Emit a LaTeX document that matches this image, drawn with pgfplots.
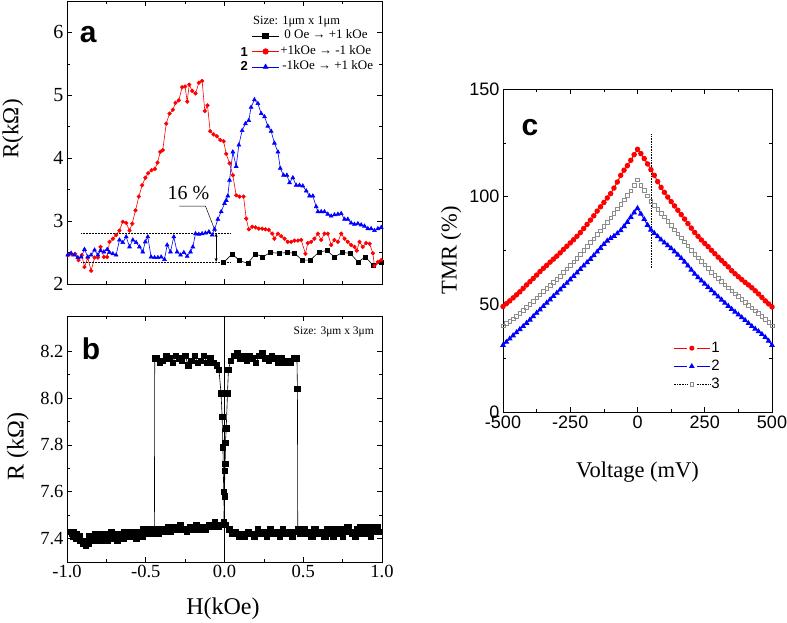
\documentclass[border=0pt]{standalone}
\usepackage{pgfplots}
\pgfplotsset{compat=1.18}
\usepackage{fontspec}
\setmainfont{Liberation Serif}
\newfontfamily\arial{Liberation Sans}
\usetikzlibrary{arrows.meta}

\definecolor{grey3}{RGB}{140,140,140}

\pgfplotsset{
  panel/.style={
    scale only axis, anchor=south west,
    tick align=inside,
    axis line style={line width=0.8pt},
    every tick/.style={black, line width=0.6pt},
    major tick length=5pt, minor tick length=3pt,
    /pgf/number format/assume math mode=true,
  },
  legdash/.style={legend image code/.code={
    \draw[##1, mark=none, line width=1.2pt] (0pt,0pt) -- (13pt,0pt) (23pt,0pt) -- (36pt,0pt);
    \draw[##1, only marks, mark size=#1] plot coordinates {(18pt,0pt)};}},
  legdot/.style={legend image code/.code={
    \draw[black, densely dotted, line width=0.6pt] (0pt,0pt) -- (13pt,0pt) (23pt,0pt) -- (36pt,0pt);
    \draw[##1, only marks, mark size=#1] plot coordinates {(18pt,0pt)};}},
}

\begin{document}
\begin{tikzpicture}
\path[use as bounding box] (0pt,0pt) rectangle (787pt,623pt);

% ---------------- panel a ----------------
\begin{axis}[panel,
  at={(67pt,339pt)}, width=315pt, height=283pt,
  xmin=-1, xmax=1, ymin=2, ymax=6.5,
  xtick={-1,-0.5,0,0.5,1}, minor x tick num=1, xticklabels={},
  ytick={2,3,4,5,6}, minor y tick num=1,
  yticklabel style={font=\rmfamily\fontsize{20}{24}\selectfont},
  ylabel={R(kΩ)},
  ylabel style={font=\fontsize{23}{27}\selectfont, at={(axis description cs:-0.172,0.548)}, anchor=center},
  legend style={at={(0.586,0.902)}, anchor=north west, draw=none, fill=none,
    font=\fontsize{13}{15}\selectfont, inner sep=0pt, row sep=1.5pt,
    nodes={inner sep=1pt, text height=9pt, text depth=3pt},
    /tikz/every even column/.append style={column sep=2pt}},
  legend cell align=left,
  legend image code/.code={\draw[#1] (0pt,0pt) -- (27pt,0pt);
    \draw[#1, only marks, mark size=2.8pt] plot coordinates {(13.5pt,0pt)};},
]
\addplot[black, line width=0.6pt, mark=square*, mark size=2pt] coordinates {
(-0.006,2.34)(0.049,2.48)(0.095,2.37)(0.148,2.33)(0.197,2.48)(0.243,2.43)(0.290,2.50)
(0.345,2.49)(0.396,2.50)(0.444,2.49)(0.493,2.38)(0.546,2.38)(0.599,2.51)(0.650,2.53)
(0.698,2.43)(0.747,2.50)(0.798,2.49)(0.847,2.35)(0.895,2.43)(0.946,2.29)(0.995,2.35)
};
\addlegendentry{\hspace{4pt}0 Oe → +1 kOe}
\addplot[red, line width=0.6pt, mark=*, mark size=1.8pt] coordinates {
(-0.995,2.46)(-0.969,2.47)(-0.948,2.48)(-0.927,2.38)(-0.906,2.46)(-0.889,2.27)(-0.868,2.42)
(-0.847,2.21)(-0.825,2.42)(-0.804,2.42)(-0.787,2.59)(-0.766,2.43)(-0.745,2.43)(-0.730,2.67)
(-0.709,2.72)(-0.688,2.78)(-0.667,2.85)(-0.646,2.99)(-0.624,2.97)(-0.603,2.85)(-0.586,2.96)
(-0.565,3.17)(-0.544,3.39)(-0.523,3.57)(-0.502,3.69)(-0.485,3.76)(-0.463,3.81)(-0.442,3.83)
(-0.425,3.93)(-0.408,4.10)(-0.392,4.13)(-0.370,4.55)(-0.349,4.71)(-0.328,4.77)(-0.311,4.88)
(-0.290,4.92)(-0.269,5.13)(-0.250,5.14)(-0.237,4.90)(-0.224,5.17)(-0.205,5.07)(-0.184,5.03)
(-0.163,5.20)(-0.142,5.23)(-0.125,4.75)(-0.108,4.84)(-0.091,4.43)(-0.070,4.38)(-0.049,4.35)
(-0.027,4.29)(-0.006,4.27)(0.011,4.07)(0.032,3.92)(0.053,3.73)(0.074,3.41)(0.095,3.39)
(0.121,3.39)(0.138,3.04)(0.154,2.87)(0.176,2.91)(0.197,2.90)(0.218,2.88)(0.239,2.88)
(0.260,2.87)(0.281,2.86)(0.303,2.80)(0.317,2.72)(0.339,2.80)(0.360,2.76)(0.381,2.72)
(0.402,2.67)(0.423,2.67)(0.444,2.69)(0.466,2.69)(0.487,2.70)(0.514,2.48)(0.529,2.65)
(0.550,2.67)(0.571,2.72)(0.593,2.80)(0.614,2.70)(0.635,2.80)(0.656,2.80)(0.677,2.62)
(0.698,2.70)(0.720,2.67)(0.741,2.80)(0.762,2.72)(0.783,2.67)(0.804,2.62)(0.825,2.59)
(0.840,2.53)(0.857,2.67)(0.878,2.59)(0.899,2.65)(0.921,2.64)(0.942,2.49)(0.952,2.29)
(0.974,2.35)(0.995,2.38)
};
\addlegendentry{+1kOe → -1 kOe}
\addplot[blue, line width=0.6pt, mark=triangle*, mark size=2.2pt] coordinates {
(-0.995,2.46)(-0.974,2.49)(-0.952,2.46)(-0.931,2.42)(-0.910,2.43)(-0.889,2.55)(-0.868,2.43)
(-0.847,2.46)(-0.825,2.54)(-0.804,2.46)(-0.787,2.53)(-0.766,2.51)(-0.745,2.55)(-0.730,2.50)
(-0.709,2.48)(-0.688,2.46)(-0.667,2.70)(-0.646,2.66)(-0.624,2.75)(-0.603,2.59)(-0.582,2.70)
(-0.561,2.66)(-0.540,2.59)(-0.519,2.51)(-0.503,2.67)(-0.487,2.75)(-0.466,2.43)(-0.444,2.42)
(-0.423,2.42)(-0.402,2.43)(-0.381,2.39)(-0.364,2.62)(-0.343,2.51)(-0.322,2.75)(-0.301,2.51)
(-0.279,2.46)(-0.258,2.50)(-0.237,2.44)(-0.216,2.51)(-0.201,2.59)(-0.184,2.80)(-0.163,2.79)
(-0.142,2.80)(-0.121,2.81)(-0.099,2.83)(-0.078,2.78)(-0.063,2.87)(-0.042,3.03)(-0.021,3.15)
(0.000,3.28)(0.011,3.33)(0.021,3.40)(0.032,3.65)(0.053,4.10)(0.074,3.87)(0.091,4.21)
(0.112,4.44)(0.133,4.55)(0.154,4.60)(0.169,4.81)(0.190,4.93)(0.212,4.87)(0.233,4.71)
(0.254,4.66)(0.275,4.51)(0.296,4.43)(0.317,4.24)(0.339,4.10)(0.354,3.84)(0.375,3.73)
(0.396,3.73)(0.413,3.61)(0.434,3.69)(0.455,3.57)(0.476,3.57)(0.497,3.56)(0.519,3.48)
(0.540,3.40)(0.561,3.40)(0.582,3.23)(0.593,3.15)(0.614,3.15)(0.635,3.15)(0.656,3.11)
(0.677,3.08)(0.698,3.10)(0.720,3.11)(0.741,3.12)(0.762,3.03)(0.783,3.03)(0.804,2.97)
(0.825,2.95)(0.847,2.96)(0.868,2.94)(0.889,2.92)(0.910,2.88)(0.931,2.88)(0.952,2.85)
(0.974,2.88)(0.995,2.90)
};
\addlegendentry{\hspace{2pt}-1kOe → +1 kOe}
% 16 % annotation
\draw[densely dotted, line width=0.5pt] (axis cs:-0.91,2.81) -- (axis cs:0.04,2.81);
\draw[densely dotted, line width=0.5pt] (axis cs:-0.91,2.35) -- (axis cs:0.04,2.35);
\draw[{Stealth[length=4pt]}-{Stealth[length=4pt]}, line width=0.6pt] (axis cs:-0.053,2.35) -- (axis cs:-0.053,2.81);
\draw[line width=0.5pt] (axis cs:-0.286,3.24) -- (axis cs:-0.121,3.24) -- (axis cs:-0.057,2.83);
\node[font=\fontsize{20}{24}\selectfont] at (axis cs:-0.229,3.44) {16 \%};
\node[font=\arial\bfseries\fontsize{30}{36}\selectfont] at (axis description cs:0.067,0.88) {a};
\node[font=\fontsize{12.5}{15}\selectfont] at (axis description cs:0.729,0.927) {Size: 1μm x 1μm};
\node[font=\arial\bfseries\fontsize{13}{15}\selectfont] at (axis description cs:0.563,0.821) {1};
\node[font=\arial\bfseries\fontsize{13}{15}\selectfont] at (axis description cs:0.563,0.769) {2};
\end{axis}

% ---------------- panel b ----------------
\begin{axis}[panel,
  at={(67pt,61pt)}, width=315pt, height=246pt,
  xmin=-1, xmax=1, ymin=7.3, ymax=8.35,
  xtick={-1,-0.5,0,0.5,1}, minor x tick num=1,
  ytick={7.4,7.6,7.8,8.0,8.2}, minor y tick num=1,
  ticklabel style={font=\rmfamily\fontsize{18.5}{22}\selectfont},
  xticklabel style={/pgf/number format/.cd, fixed, fixed zerofill, precision=1},
  yticklabel style={/pgf/number format/.cd, fixed, fixed zerofill, precision=1},
  xlabel={H(kOe)}, ylabel={R (kΩ)},
  xlabel style={font=\fontsize{24}{28}\selectfont, at={(axis description cs:0.495,-0.191)}, anchor=center},
  ylabel style={font=\fontsize{24}{28}\selectfont, at={(axis description cs:-0.156,0.469)}, anchor=center},
]
\draw[line width=0.6pt] (axis cs:0,7.3) -- (axis cs:0,8.35);
\addplot[black, line width=0.6pt, mark=square*, mark size=2.7pt] coordinates {
% sweep +1 -> -1
(0.97,7.45)(0.95,7.43)(0.93,7.41)(0.91,7.44)(0.89,7.45)(0.87,7.42)(0.85,7.44)(0.83,7.41)
(0.81,7.42)(0.79,7.45)(0.77,7.43)(0.75,7.41)(0.73,7.43)(0.71,7.44)(0.69,7.41)(0.67,7.42)
(0.65,7.44)(0.63,7.41)(0.61,7.43)(0.59,7.42)(0.57,7.44)(0.55,7.41)(0.53,7.42)(0.51,7.44)
(0.49,7.42)(0.47,7.44)(0.45,7.43)(0.43,7.41)(0.41,7.43)(0.39,7.42)(0.37,7.44)(0.35,7.41)
(0.33,7.43)(0.31,7.42)(0.29,7.44)(0.27,7.41)(0.25,7.43)(0.23,7.42)(0.21,7.44)(0.19,7.41)
(0.17,7.42)(0.15,7.43)(0.13,7.41)(0.11,7.42)(0.09,7.41)(0.07,7.43)(0.05,7.42)(0.03,7.44)
(0.01,7.46)(0.000,7.46)(-0.005,7.60)(-0.010,7.79)(-0.015,7.92)(-0.022,8.02)(-0.035,8.12)
(-0.05,8.14)(-0.07,8.15)(-0.09,8.17)(-0.11,8.15)(-0.13,8.18)(-0.15,8.16)(-0.17,8.15)
(-0.19,8.18)(-0.21,8.16)(-0.23,8.14)(-0.25,8.18)(-0.27,8.16)(-0.29,8.17)(-0.31,8.18)
(-0.33,8.15)(-0.35,8.17)(-0.37,8.18)(-0.39,8.16)(-0.41,8.15)(-0.43,8.17)(-0.443,8.17)
(-0.445,7.43)(-0.46,7.44)(-0.48,7.42)(-0.50,7.43)(-0.52,7.41)(-0.54,7.43)(-0.56,7.40)
(-0.58,7.42)(-0.60,7.41)(-0.62,7.43)(-0.64,7.40)(-0.66,7.42)(-0.68,7.39)(-0.70,7.41)
(-0.72,7.43)(-0.74,7.40)(-0.76,7.42)(-0.78,7.39)(-0.80,7.41)(-0.82,7.39)(-0.84,7.41)
(-0.86,7.38)(-0.88,7.37)(-0.90,7.39)(-0.92,7.41)(-0.94,7.40)(-0.96,7.43)(-0.97,7.42)
% sweep -1 -> +1
(-0.98,7.43)(-0.96,7.41)(-0.94,7.42)(-0.92,7.39)(-0.90,7.38)(-0.88,7.39)(-0.86,7.41)
(-0.84,7.39)(-0.82,7.42)(-0.80,7.40)(-0.78,7.42)(-0.76,7.41)(-0.74,7.39)(-0.72,7.42)
(-0.70,7.40)(-0.68,7.42)(-0.66,7.41)(-0.64,7.43)(-0.62,7.41)(-0.60,7.43)(-0.58,7.41)
(-0.56,7.43)(-0.54,7.42)(-0.52,7.44)(-0.50,7.42)(-0.48,7.44)(-0.46,7.42)(-0.44,7.44)
(-0.42,7.42)(-0.40,7.44)(-0.38,7.43)(-0.36,7.45)(-0.34,7.43)(-0.32,7.45)(-0.30,7.44)
(-0.28,7.46)(-0.26,7.44)(-0.24,7.43)(-0.22,7.45)(-0.20,7.44)(-0.18,7.46)(-0.16,7.44)
(-0.14,7.45)(-0.12,7.44)(-0.10,7.46)(-0.08,7.45)(-0.06,7.47)(-0.04,7.45)(-0.02,7.46)
(-0.005,7.47)(0.000,7.58)(0.002,7.69)(0.004,7.72)(0.006,7.81)(0.011,7.87)(0.019,8.02)
(0.025,8.12)(0.04,8.16)(0.06,8.18)(0.08,8.19)(0.10,8.17)(0.12,8.18)(0.14,8.16)(0.16,8.18)
(0.18,8.17)(0.20,8.15)(0.22,8.18)(0.24,8.19)(0.26,8.17)(0.28,8.16)(0.30,8.18)(0.32,8.17)
(0.34,8.15)(0.36,8.17)(0.38,8.15)(0.40,8.16)(0.42,8.15)(0.44,8.17)(0.46,8.17)(0.463,8.04)
(0.465,7.44)(0.48,7.42)(0.50,7.44)(0.52,7.42)(0.54,7.43)(0.56,7.41)(0.58,7.44)(0.60,7.42)
(0.62,7.43)(0.64,7.41)(0.66,7.43)(0.68,7.44)(0.70,7.42)(0.72,7.44)(0.74,7.42)(0.76,7.44)
(0.78,7.45)(0.80,7.43)(0.82,7.42)(0.84,7.44)(0.86,7.45)(0.88,7.43)(0.90,7.42)(0.92,7.45)
(0.94,7.44)(0.96,7.45)(0.98,7.43)
};
\node[font=\arial\bfseries\fontsize{30}{36}\selectfont] at (axis description cs:0.076,0.866) {b};
\node[font=\fontsize{11.5}{14}\selectfont, anchor=east] at (axis cs:0.97,8.28) {Size: 3μm x 3μm};
\end{axis}

% ---------------- panel c ----------------
\begin{axis}[panel,
  at={(503pt,211pt)}, width=269pt, height=323pt,
  xmin=-500, xmax=500, ymin=0, ymax=150,
  xtick={-500,-250,0,250,500}, minor x tick num=1,
  ytick={0,50,100,150}, minor y tick num=1,
  ticklabel style={font=\arial\fontsize{18}{21}\selectfont},
  xlabel={Voltage (mV)}, ylabel={TMR (\%)},
  xlabel style={font=\fontsize{22.5}{26}\selectfont, at={(axis description cs:0.5,-0.185)}, anchor=center},
  ylabel style={font=\fontsize{22.5}{26}\selectfont, at={(axis description cs:-0.193,0.5)}, anchor=center},
  legend style={at={(0.632,0.223)}, anchor=north west, draw=none, fill=none,
    font=\arial\fontsize{15}{18}\selectfont, inner sep=0pt, row sep=2pt,
    nodes={inner sep=1pt, text height=11pt, text depth=3pt},
    /tikz/every even column/.append style={column sep=2pt}},
  legend cell align=left,
]
\addplot[red, line width=1pt, mark=*, mark size=2.2pt, legdash=2pt] coordinates {
(-500,49.0)(-487.5,50.3)(-475,51.6)(-462.5,53.0)(-450,54.4)(-437.5,55.8)(-425,57.4)(-412.5,59.0)
(-400,60.5)(-387.5,62.0)(-375,63.6)(-362.5,65.2)(-350,66.7)(-337.5,68.1)(-325,69.6)(-312.5,71.0)
(-300,72.4)(-287.5,73.9)(-275,75.5)(-262.5,77.0)(-250,78.5)(-237.5,80.0)(-225,81.6)(-212.5,83.3)
(-200,85.2)(-187.5,87.1)(-175,89.1)(-162.5,91.1)(-150,93.3)(-137.5,95.3)(-125,97.3)(-112.5,99.4)
(-100,101.4)(-87.5,104.0)(-75,106.8)(-62.5,109.9)(-50,112.3)(-37.5,114.4)(-25,116.9)(-12.5,119.5)
(0,122.0)(12.5,120.0)(25,117.7)(37.5,115.2)(50,112.5)(62.5,109.9)(75,107.0)(87.5,104.3)
(100,102.0)(112.5,99.8)(125,97.7)(137.5,95.7)(150,93.7)(162.5,91.7)(175,89.6)(187.5,87.5)
(200,85.4)(212.5,83.4)(225,81.6)(237.5,79.9)(250,78.3)(262.5,76.8)(275,75.1)(287.5,73.5)
(300,71.9)(312.5,70.4)(325,68.9)(337.5,67.4)(350,65.6)(362.5,64.2)(375,62.8)(387.5,61.5)
(400,60.2)(412.5,59.0)(425,57.7)(437.5,56.3)(450,54.8)(462.5,53.2)(475,51.6)(487.5,50.2)
(500,48.8)
};
\addlegendentry{1}
\addplot[blue, line width=1pt, mark=triangle*, mark size=2.4pt, legdash=2.2pt] coordinates {
(-500,31.0)(-487.5,32.5)(-475,34.0)(-462.5,35.5)(-450,36.9)(-437.5,38.4)(-425,39.8)(-412.5,41.3)
(-400,42.8)(-387.5,44.4)(-375,46.0)(-362.5,47.5)(-350,49.1)(-337.5,50.7)(-325,52.2)(-312.5,53.8)
(-300,55.3)(-287.5,56.8)(-275,58.4)(-262.5,59.9)(-250,61.5)(-237.5,63.1)(-225,64.7)(-212.5,66.3)
(-200,67.9)(-187.5,69.5)(-175,71.0)(-162.5,72.7)(-150,74.4)(-137.5,76.1)(-125,77.9)(-112.5,79.5)
(-100,80.7)(-87.5,81.7)(-75,82.9)(-62.5,84.3)(-50,86.2)(-37.5,88.2)(-25,90.5)(-12.5,92.6)
(0,94.6)(12.5,92.0)(25,89.5)(37.5,86.8)(50,84.6)(62.5,83.0)(75,81.5)(87.5,80.0)
(100,78.6)(112.5,77.3)(125,76.0)(137.5,74.5)(150,73.0)(162.5,71.4)(175,69.7)(187.5,67.9)
(200,66.0)(212.5,64.1)(225,62.5)(237.5,61.0)(250,59.5)(262.5,58.0)(275,56.5)(287.5,55.0)
(300,53.5)(312.5,52.1)(325,50.6)(337.5,49.2)(350,47.8)(362.5,46.5)(375,45.2)(387.5,43.9)
(400,42.6)(412.5,41.2)(425,39.8)(437.5,38.6)(450,37.4)(462.5,36.1)(475,34.7)(487.5,33.0)
(500,31.0)
};
\addlegendentry{2}
\addplot[grey3, only marks, mark=square, mark size=1.8pt, mark options={line width=0.6pt}, legdot=1.8pt] coordinates {
(-500,40.0)(-487.5,41.1)(-475,42.2)(-462.5,43.3)(-450,44.5)(-437.5,45.8)(-425,47.3)(-412.5,48.7)
(-400,50.1)(-387.5,51.5)(-375,53.0)(-362.5,54.4)(-350,56.0)(-337.5,57.5)(-325,58.9)(-312.5,60.3)
(-300,61.6)(-287.5,63.1)(-275,64.8)(-262.5,66.5)(-250,68.1)(-237.5,69.8)(-225,71.5)(-212.5,73.2)
(-200,75.1)(-187.5,76.9)(-175,78.7)(-162.5,80.5)(-150,82.4)(-137.5,84.2)(-125,86.2)(-112.5,88.2)
(-100,90.2)(-87.5,92.2)(-75,94.3)(-62.5,96.5)(-50,98.5)(-37.5,100.7)(-25,102.8)(-12.5,105.3)
(0,107.8)(12.5,105.4)(25,103.0)(37.5,100.4)(50,97.9)(62.5,95.9)(75,94.0)(87.5,92.4)
(100,90.6)(112.5,88.6)(125,86.6)(137.5,84.7)(150,82.8)(162.5,80.9)(175,79.0)(187.5,77.1)
(200,75.2)(212.5,73.3)(225,71.6)(237.5,69.9)(250,68.3)(262.5,66.6)(275,65.0)(287.5,63.5)
(300,62.0)(312.5,60.6)(325,59.1)(337.5,57.7)(350,56.3)(362.5,54.9)(375,53.6)(387.5,52.3)
(400,51.0)(412.5,49.6)(425,48.3)(437.5,47.0)(450,45.7)(462.5,44.4)(475,43.0)(487.5,41.6)
(500,40.0)
};
\addlegendentry{3}
\draw[densely dotted, line width=0.6pt] (axis cs:50,67) -- (axis cs:50,129);
\node[font=\arial\bfseries\fontsize{30}{36}\selectfont] at (axis description cs:0.10,0.881) {c};
\end{axis}
\end{tikzpicture}
\end{document}
